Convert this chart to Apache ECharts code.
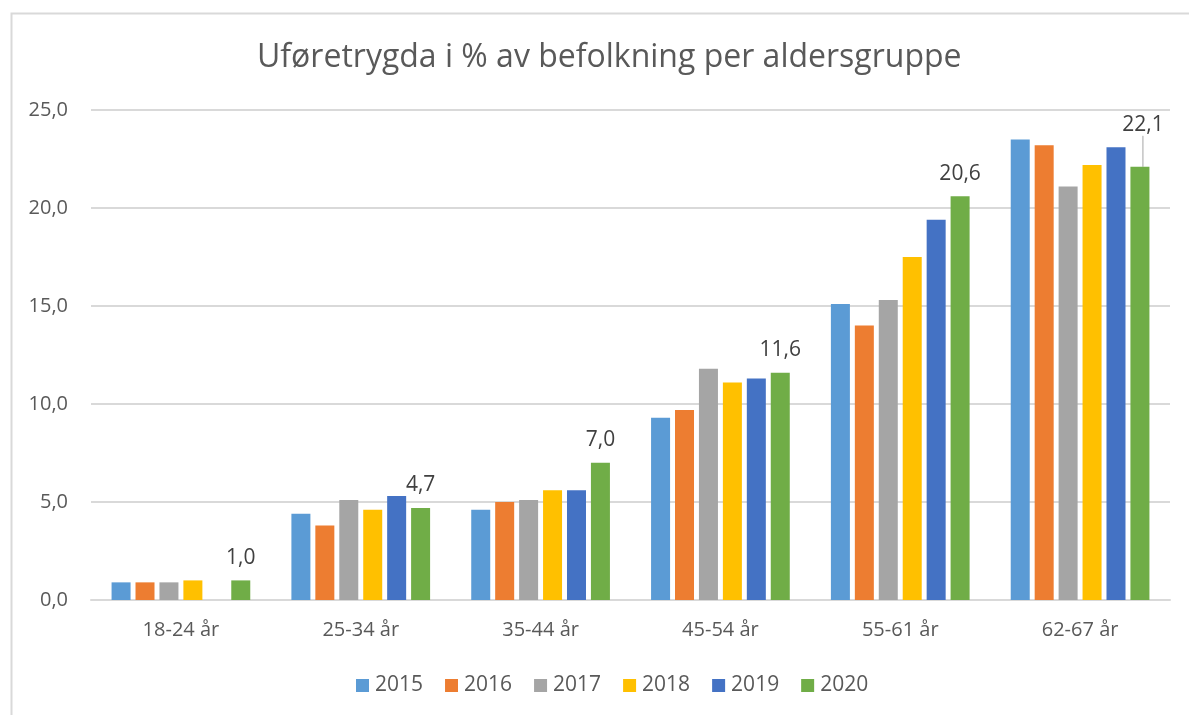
<!DOCTYPE html>
<html>
<head>
<meta charset="utf-8">
<script src="https://cdn.jsdelivr.net/npm/echarts@6/dist/echarts.min.js"></script>
<style>html,body{margin:0;padding:0;background:#fff;}#c{width:1189px;height:715px;}</style>
</head>
<body>
<div id="c"></div>
<script>
const categories = ['18-24 år', '25-34 år', '35-44 år', '45-54 år', '55-61 år', '62-67 år'];
const years = ['2015', '2016', '2017', '2018', '2019', '2020'];
const v2015 = [0.9, 4.4, 4.6, 9.3, 15.1, 23.5];
const v2016 = [0.9, 3.8, 5.0, 9.7, 14.0, 23.2];
const v2017 = [0.9, 5.1, 5.1, 11.8, 15.3, 21.1];
const v2018 = [1.0, 4.6, 5.6, 11.1, 17.5, 22.2];
const v2019 = [null, 5.3, 5.6, 11.3, 19.4, 23.1];
const v2020 = [1.0, 4.7, 7.0, 11.6, 20.6, 22.1];
const colors = ['#5B9BD5', '#ED7D31', '#A5A5A5', '#FFC000', '#4472C4', '#70AD47'];
const yTicks = { min: 0, max: 25, interval: 5 };

const FONT = 'Open Sans';
const TXT = '#595959';
const fmt = v => Number(v).toFixed(1).replace('.', ',');

const allData = [v2015, v2016, v2017, v2018, v2019, v2020];
const series = allData.map((arr, i) => {
  const s = {
    name: years[i],
    type: 'bar',
    barWidth: 19,
    barGap: '26%',
    itemStyle: { color: colors[i] },
    data: arr.slice()
  };
  if (i === 5) {
    s.label = {
      show: true, position: 'top', distance: 12,
      color: '#404040', fontSize: 21, fontFamily: FONT,
      formatter: p => fmt(p.value)
    };
    s.data = arr.map((v, j) => j === 5 ? { value: v, labelLine: { show: true, lineStyle: { color: '#A6A6A6', width: 1 } } } : v);
    s.labelLayout = function (p) {
      if (p.dataIndex === 5) return { dx: 3, dy: -19 };
      return {};
    };
  }
  return s;
});

const chart = echarts.init(document.getElementById('c'));
chart.setOption({
  backgroundColor: '#fff',
  animation: false,
  color: colors,
  title: {
    text: 'Uføretrygda i % av befolkning per aldersgruppe',
    left: 252, top: 37,
    textStyle: { fontFamily: FONT, fontSize: 32, fontWeight: 'normal', color: TXT }
  },
  graphic: [{
    type: 'rect', left: 9, top: 11, silent: true,
    shape: { x: 0, y: 0, width: 1200, height: 720 },
    style: { fill: 'none', stroke: '#D9D9D9', lineWidth: 2 }
  }],
  legend: {
    data: years, bottom: 14, left: 351,
    itemWidth: 13, itemHeight: 13, itemGap: 22,
    icon: 'rect',
    textStyle: { fontFamily: FONT, fontSize: 21, color: TXT, padding: [0, 0, 0, 1] }
  },
  grid: { left: 91, right: 19, top: 110, bottom: 115, containLabel: false },
  xAxis: {
    type: 'category', data: categories,
    axisLine: { lineStyle: { color: '#D9D9D9', width: 2 } },
    axisTick: { show: false },
    axisLabel: { fontFamily: FONT, fontSize: 20, color: TXT, margin: 20 }
  },
  yAxis: {
    type: 'value', min: yTicks.min, max: yTicks.max, interval: yTicks.interval,
    axisLine: { show: false }, axisTick: { show: false },
    splitLine: { lineStyle: { color: '#D9D9D9', width: 2 } },
    axisLabel: { fontFamily: FONT, fontSize: 20, color: TXT, margin: 23, formatter: v => fmt(v) }
  },
  series: series
});
</script>
</body>
</html>
